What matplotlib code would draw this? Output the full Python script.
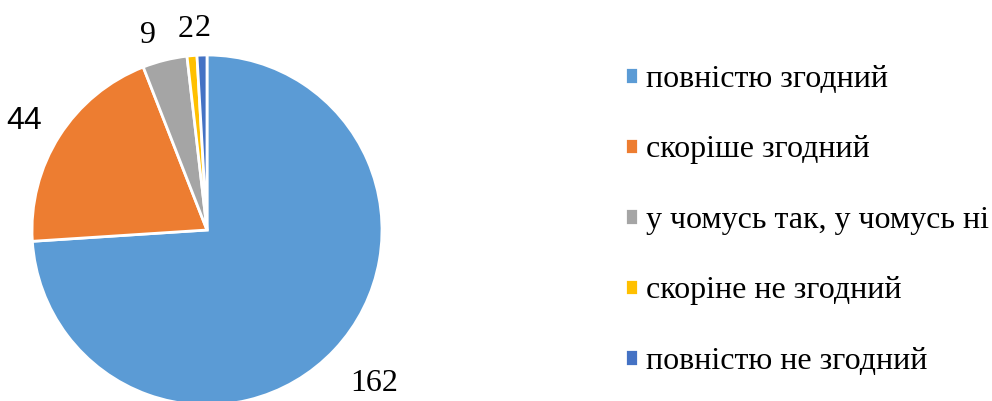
import matplotlib.pyplot as plt
import numpy as np

labels = ['повністю згодний', 'скоріше згодний', 'у чомусь так, у чомусь ні',
          'скоріне не згодний', 'повністю не згодний']
values = [162, 44, 9, 2, 2]
colors = ['#5B9BD5', '#ED7D31', '#A5A5A5', '#FFC000', '#4472C4']
# distance of each value label from the centre (in radii) and a small nudge (points)
label_dist = [1.28, 1.22, 1.16, 1.15, 1.15]
label_nudge = [(3, 0), (-2, -4), (-7, -2), (-3, 0), (1, 0)]

plt.rcParams['font.family'] = ['Liberation Serif', 'DejaVu Serif']

fig = plt.figure(figsize=(9.92, 4.01), dpi=100)
ax = fig.add_axes([32 / 992, -4 / 401, 350 / 992, 350 / 401])

wedges, _ = ax.pie(values, colors=colors, startangle=90, counterclock=False,
                   wedgeprops=dict(edgecolor='white', linewidth=2))
ax.set_xlim(-1, 1)
ax.set_ylim(-1, 1)
ax.set_aspect('equal')

for w, v, d, nd in zip(wedges, values, label_dist, label_nudge):
    ang = np.deg2rad((w.theta1 + w.theta2) / 2)
    fam = ['Liberation Sans'] if v == 44 else ['Liberation Serif']
    ax.annotate(str(v), (d * np.cos(ang), d * np.sin(ang)), xytext=nd,
                textcoords='offset points', fontsize=23, ha='center', va='center',
                family=fam, annotation_clip=False)

fig.legend(wedges, labels, loc='upper left', bbox_to_anchor=(612 / 992, 1 - 52 / 401),
           frameon=False, fontsize=23, handlelength=0.42, handleheight=0.42,
           handletextpad=0.25, labelspacing=1.3, borderaxespad=0)

fig.savefig('out.png', dpi=100)
